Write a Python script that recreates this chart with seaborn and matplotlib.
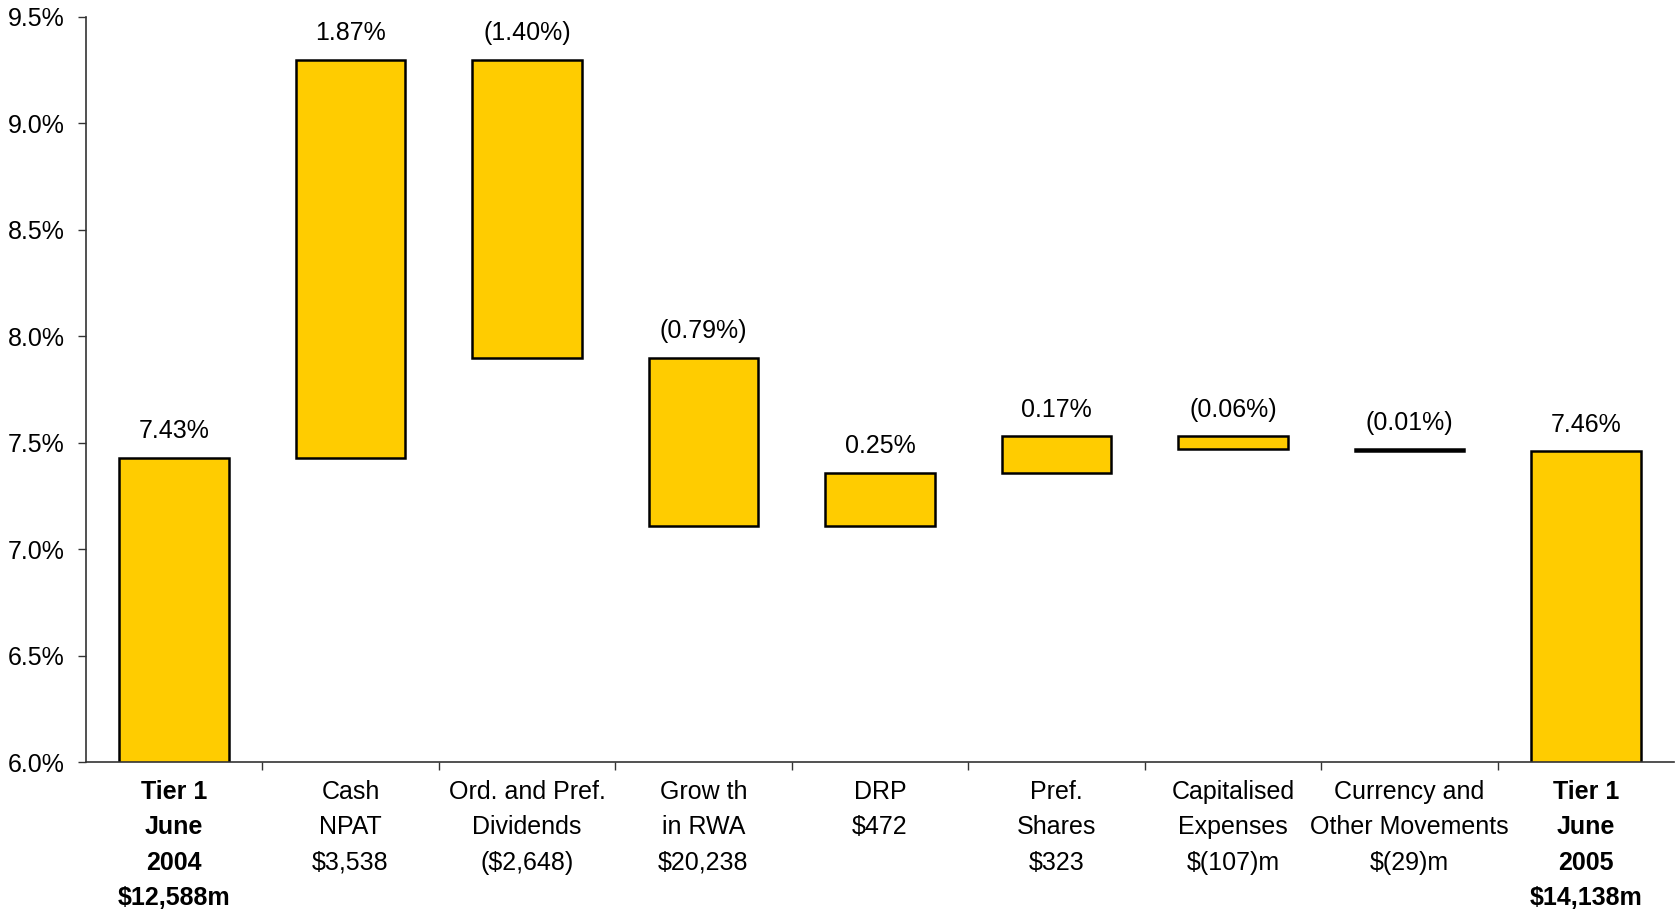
import matplotlib
matplotlib.use("Agg")
import matplotlib.pyplot as plt
import seaborn as sns
import pandas as pd
import numpy as np
from matplotlib.ticker import FuncFormatter, FixedLocator, NullFormatter

categories = ["Tier 1\nJune\n2004\n$12,588m", "Cash\nNPAT\n$3,538",
              "Ord. and Pref.\nDividends\n($2,648)", "Grow th\nin RWA\n$20,238",
              "DRP\n$472", "Pref.\nShares\n$323", "Capitalised\nExpenses\n$(107)m",
              "Currency and\nOther Movements\n$(29)m", "Tier 1\nJune\n2005\n$14,138m"]
changes = [7.43, 1.87, -1.40, -0.79, 0.25, 0.17, -0.06, -0.01, 7.46]
is_total = [True, False, False, False, False, False, False, False, True]
value_labels = ["7.43%", "1.87%", "(1.40%)", "(0.79%)", "0.25%", "0.17%",
                "(0.06%)", "(0.01%)", "7.46%"]

# waterfall geometry from the changes
bottoms, heights, tops = [], [], []
level = 0.0
for c, tot in zip(changes, is_total):
    if tot:
        b, h = 0.0, c
        level = c
    else:
        new = level + c
        b, h = min(level, new), abs(c)
        level = new
    bottoms.append(b)
    heights.append(h)
    tops.append(b + h)

df = pd.DataFrame({"cat": categories, "height": heights})

sns.set_theme(style="white")
plt.rcParams["font.family"] = ["Liberation Sans", "DejaVu Sans"]

fig = plt.figure(figsize=(16.75, 9.17), dpi=100)
ax = fig.add_axes([0.0512, 0.169, 0.9483, 0.8125])

sns.barplot(data=df, x="cat", y="height", bottom=bottoms, color="#FFCC00",
            saturation=1, edgecolor="black", linewidth=1.8, width=0.62, ax=ax)

for i, (t, lab) in enumerate(zip(tops, value_labels)):
    ax.annotate(lab, xy=(i, t), xytext=(0, 19), textcoords="offset points",
                ha="center", va="center", fontsize=18, color="black")

ax.set_ylim(6.0, 9.5)
ax.set_xlim(-0.5, len(categories) - 0.5)
ax.set_yticks(np.arange(6.0, 9.51, 0.5))
ax.yaxis.set_major_formatter(FuncFormatter(lambda v, p: f"{v:.1f}%"))
ax.set_xlabel("")
ax.set_ylabel("")

ax.xaxis.set_minor_locator(FixedLocator(np.arange(0.5, len(categories) - 0.5, 1.0)))
ax.xaxis.set_minor_formatter(NullFormatter())
ax.tick_params(axis="x", which="major", length=0, pad=13, labelsize=18, colors="black")
ax.tick_params(axis="x", which="minor", length=6, width=1, color="#333333", direction="out", bottom=True)
ax.tick_params(axis="y", which="major", length=6, width=1, color="#333333", direction="out",
               left=True, pad=9, labelsize=18, labelcolor="black")
ax.set_xticks(range(len(categories)))
ax.set_xticklabels(categories, linespacing=1.6)
for lbl, tot in zip(ax.get_xticklabels(), is_total):
    if tot:
        lbl.set_fontweight("bold")

for s in ["top", "right"]:
    ax.spines[s].set_visible(False)
for s in ["left", "bottom"]:
    ax.spines[s].set_color("#333333")
    ax.spines[s].set_linewidth(1.2)
ax.grid(False)

fig.savefig("out.png", dpi=100, facecolor="white")
